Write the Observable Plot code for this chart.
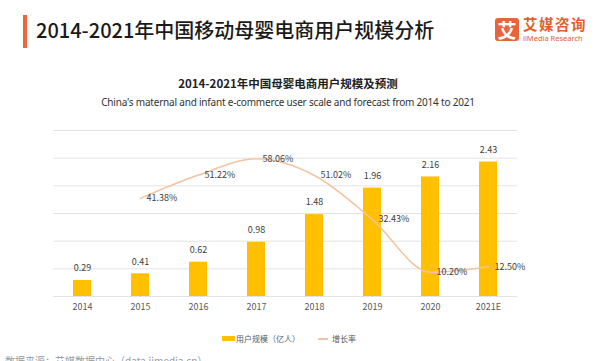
<!DOCTYPE html>
<html><head><meta charset="utf-8">
<script src="https://cdn.jsdelivr.net/npm/d3@7"></script>
<script src="https://cdn.jsdelivr.net/npm/@observablehq/plot@0.6"></script>
<style>
html,body{margin:0;padding:0;background:#fff}
body{width:600px;height:361px;overflow:hidden;position:relative;font-family:"Noto Sans CJK SC","Noto Sans",sans-serif;color:#222}
.abs{position:absolute;white-space:nowrap;line-height:1}
#accent{left:23px;top:15px;width:4px;height:33px;background:#f0663a}
#title{left:36px;top:20px;font-size:20px;font-weight:500;color:#1a1a1a}
#logoBox{left:495px;top:18px;width:24px;height:23px;background:#e8643a;border-radius:3px;color:#fff;font-size:19px;font-weight:700;text-align:center;line-height:23px}
#logoCn{left:523px;top:17px;font-size:14.5px;line-height:14px;font-weight:700;color:#e2602f;letter-spacing:1.5px}
#logoEn{left:523px;top:35px;font-size:7.5px;line-height:7px;color:#e2602f;font-family:"Noto Sans",sans-serif}
#ctitle{left:0;width:576px;top:78px;text-align:center;font-size:11.5px;font-weight:700;color:#222}
#csub{left:0;width:576px;top:97px;text-align:center;font-size:10px;color:#333;font-family:"Noto Sans",sans-serif;letter-spacing:-0.2px}
#chart{left:0;top:120px}
#legend{left:222px;top:334px;font-size:8px;color:#595959}
.sw{display:inline-block;vertical-align:middle}
#source{left:5px;top:356px;font-size:10px;color:#9a9a9a}
</style></head>
<body>
<div class="abs" id="accent"></div>
<div class="abs" id="title">2014-2021年中国移动母婴电商用户规模分析</div>
<div class="abs" id="logoBox">艾</div>
<div class="abs" id="logoCn">艾媒咨询</div>
<div class="abs" id="logoEn">iiMedia Research</div>
<div class="abs" id="ctitle">2014-2021年中国母婴电商用户规模及预测</div>
<div class="abs" id="csub">China's maternal and infant e-commerce user scale and forecast from 2014 to 2021</div>
<div class="abs" id="chart"></div>
<div class="abs" id="legend"><span class="sw" style="width:13px;height:5px;background:#FFC000"></span><span style="vertical-align:middle;margin-left:1px">用户规模（亿人）</span><span class="sw" style="width:10px;height:1.5px;background:#f4c3a0;margin-left:18px"></span><span style="vertical-align:middle;margin-left:4px">增长率</span></div>
<div class="abs" id="source">数据来源：艾媒数据中心（data.iimedia.cn）</div>
<script>
const years = ["2014","2015","2016","2017","2018","2019","2020","2021E"];
const users = [0.29,0.41,0.62,0.98,1.48,1.96,2.16,2.43];
const growth = [null,41.38,51.22,58.06,51.02,32.43,10.20,12.50];
const yTicks = [0,0.5,1,1.5,2,2.5,3];
const Y_MAX = 3, RATE_MAX = 70;

const data = years.map((y,i)=>({year:y, users:users[i], growth:growth[i]}));
const rateData = data.filter(d=>d.growth!=null);
const rateY = d => d.growth * Y_MAX / RATE_MAX;

const chart = Plot.plot({
  width:600, height:200,
  marginTop:10, marginBottom:24, marginLeft:53, marginRight:83,
  x:{domain:years, paddingInner:0.69, paddingOuter:0.345, tickSize:0, tickPadding:7, label:null},
  y:{domain:[0,Y_MAX], axis:null},
  style:{fontFamily:'"Noto Sans CJK SC","Noto Sans",sans-serif', fontSize:"9px", color:"#595959", background:"transparent"},
  marks:[
    Plot.ruleY(yTicks,{stroke:"#e3e3e3", strokeWidth:1}),
    Plot.barY(data,{x:"year", y:"users", fill:"#FFC000"}),
    Plot.text(data,{x:"year", y:"users", text:d=>d.users.toFixed(2), dy:-12, fill:"#404040"}),
    Plot.line(rateData,{x:"year", y:rateY, stroke:"#f4c3a0", strokeWidth:1.5, curve:"monotone-x"}),
    Plot.text(rateData,{x:"year", y:rateY, text:d=>d.growth.toFixed(2)+"%", textAnchor:"start", dx:6, fill:"#404040"})
  ]
});
document.getElementById("chart").appendChild(chart);
</script>
</body></html>
